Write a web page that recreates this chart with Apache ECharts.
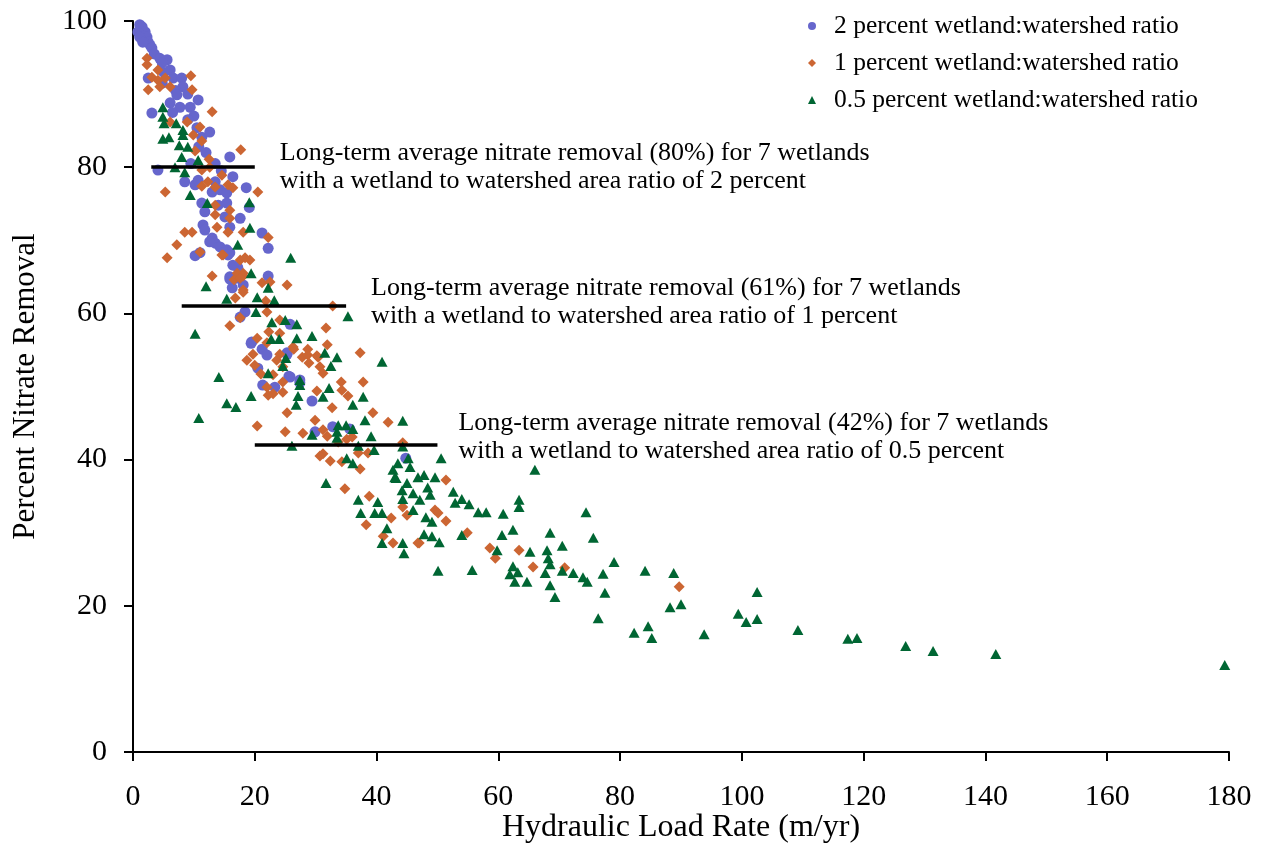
<!DOCTYPE html>
<html>
<head>
<meta charset="utf-8">
<script src="https://cdn.jsdelivr.net/npm/echarts@6/dist/echarts.min.js"></script>
<style>
html,body{margin:0;padding:0;background:#fff;}
#chart{width:1266px;height:845px;}
</style>
</head>
<body>
<div id="chart"></div>
<script>
// ---- data ----
var xTicks = [0, 20, 40, 60, 80, 100, 120, 140, 160, 180];
var yTicks = [0, 20, 40, 60, 80, 100];
var seriesNames = ['2 percent wetland:watershed ratio', '1 percent wetland:watershed ratio', '0.5 percent wetland:watershed ratio'];

var ratio2 = [
[1.1,99.5],[1.5,99.2],[2.0,98.5],[2.3,97.8],[2.5,97.1],[2.8,96.7],[0.8,98.5],[1.1,97.8],[1.6,97.1],[3.1,96.3],
[3.5,95.5],[4.4,94.9],[5.6,94.7],[4.8,94.3],[5.0,93.0],[2.5,92.2],[6.1,93.3],[6.6,92.2],[8.0,92.2],[8.2,91.0],
[4.8,91.5],[7.0,90.5],[9.0,90.0],[7.2,89.9],[6.1,88.8],[7.7,88.2],[9.4,88.2],[10.7,89.2],[6.5,87.5],[10.0,87.0],
[3.1,87.4],[9.0,86.5],[10.5,85.4],[11.3,84.1],[12.6,84.8],[10.8,82.8],[12.0,82.0],[13.5,80.5],[14.5,79.5],[9.5,80.5],
[15.9,81.4],[4.1,79.6],[8.5,78.0],[10.2,77.6],[10.7,78.2],[13.5,78.0],[16.4,78.7],[13.0,76.6],[14.3,76.9],[15.4,76.5],
[18.6,77.2],[11.3,75.1],[14.0,74.8],[15.4,75.1],[19.1,74.5],[11.8,73.9],[15.1,73.2],[17.6,73.0],[15.9,71.8],[11.5,72.1],
[11.8,71.4],[21.2,71.0],[13.0,70.3],[13.5,69.6],[12.6,69.8],[14.3,69.1],[15.4,68.7],[15.9,68.3],[10.2,67.9],[11.0,68.3],
[22.2,68.9],[17.2,66.3],[16.9,64.8],[15.9,65.0],[16.3,63.5],[22.2,65.1],[15.6,68.0],[16.4,66.6],[15.9,64.7],[18.1,63.9],
[18.4,60.2],[17.6,59.5],[25.8,58.5],[19.5,56.1],[19.4,55.9],[21.2,55.1],[22.0,54.3],[25.3,54.4],[20.5,52.5],[25.6,51.4],
[21.3,50.2],[23.3,49.9],[27.4,50.5],[25.3,54.6],[25.8,51.3],[27.4,50.9],[29.4,48.0],[29.9,43.8],[32.8,44.5],[35.6,44.2],
[44.8,40.2]
];

var ratio1 = [
[2.3,94.9],[2.3,94.0],[4.1,93.3],[3.1,92.3],[4.1,91.9],[5.3,92.2],[4.4,91.0],[2.5,90.6],[6.1,91.0],[9.5,92.5],
[9.7,90.6],[13.0,87.6],[6.1,86.2],[8.9,86.2],[11.0,85.5],[9.9,84.4],[11.3,83.6],[10.2,82.2],[12.5,81.1],[17.7,82.4],
[5.3,76.6],[12.3,78.0],[11.3,77.4],[13.5,77.3],[14.6,78.9],[12.6,80.0],[11.3,79.6],[15.6,77.6],[16.4,77.2],[20.5,76.6],
[13.5,74.8],[15.9,74.1],[13.5,73.5],[15.9,73.0],[13.8,71.8],[8.5,71.1],[9.7,71.1],[15.6,71.1],[18.1,71.1],[22.2,70.4],
[7.2,69.4],[11.0,68.4],[14.8,68.0],[5.6,67.6],[13.0,65.1],[17.6,67.3],[19.2,67.3],[18.1,65.5],[21.2,64.2],[18.1,63.2],
[14.6,68.0],[18.4,67.6],[17.1,65.5],[18.1,65.1],[16.6,64.6],[17.6,64.8],[22.5,64.3],[25.3,63.9],[18.1,62.9],[16.8,62.1],
[21.8,61.7],[22.0,60.2],[17.6,59.4],[15.9,58.3],[32.8,61.0],[24.1,59.1],[22.3,57.5],[24.1,57.3],[20.4,56.6],[22.0,56.0],
[31.7,58.0],[26.4,55.1],[28.7,55.1],[30.4,54.0],[18.7,53.6],[19.7,54.4],[20.0,52.9],[23.6,53.6],[24.1,54.4],[24.6,52.7],
[21.0,51.7],[23.0,51.6],[22.0,49.9],[23.0,49.0],[26.3,55.4],[27.8,54.0],[28.7,54.3],[28.9,53.2],[30.2,54.2],[31.9,55.7],
[30.7,52.7],[31.2,51.8],[37.3,54.6],[37.8,50.6],[34.2,50.6],[34.3,49.5],[35.3,48.7],[30.2,49.4],[24.6,50.6],[24.6,49.2],
[32.7,47.1],[39.4,46.4],[41.9,45.1],[25.3,46.4],[29.9,45.4],[25.0,43.8],[27.9,43.6],[31.2,44.1],[31.9,43.2],[33.7,42.4],
[35.1,42.8],[36.0,43.1],[44.3,42.3],[37.0,40.9],[38.6,40.9],[31.2,40.8],[30.7,40.5],[32.4,39.8],[34.3,39.7],[37.3,38.7],
[20.4,44.6],[22.2,48.8],[51.4,37.2],[49.6,33.1],[50.1,32.7],[51.4,31.6],[44.3,33.5],[45.0,32.4],[54.9,30.0],[47.0,28.6],
[58.6,27.9],[59.5,26.5],[63.4,27.6],[65.7,25.3],[70.9,25.2],[34.8,36.0],[38.8,35.0],[42.4,32.0],[38.3,31.1],[41.1,29.5],
[42.7,28.6],[46.8,28.6],[89.7,22.6]
];

var ratio05 = [
[4.9,88.2],[4.9,86.9],[5.1,86.0],[7.1,86.0],[4.9,83.9],[5.9,84.1],[8.2,85.1],[8.2,84.4],[7.6,83.0],[9.0,82.8],
[8.0,81.4],[10.7,81.0],[6.9,80.0],[8.5,79.3],[9.4,76.2],[12.2,75.1],[19.1,75.2],[19.2,71.7],[17.2,69.4],[19.4,65.5],
[25.9,67.6],[12.0,63.7],[22.2,63.5],[15.4,62.0],[20.4,62.2],[23.2,61.8],[20.2,60.2],[35.3,59.6],[22.8,58.8],[25.0,59.1],
[26.9,58.5],[22.7,56.5],[24.0,56.5],[26.9,56.6],[22.2,51.8],[14.1,51.3],[19.4,48.7],[10.2,57.2],[15.4,47.7],[16.9,47.2],
[10.8,45.7],[29.4,56.9],[31.5,54.6],[33.5,54.0],[40.9,53.4],[32.5,52.8],[25.1,53.9],[24.6,52.8],[27.4,50.9],[27.4,50.2],
[32.2,49.8],[31.2,48.6],[27.1,48.7],[37.8,48.6],[26.8,47.5],[36.1,47.5],[38.1,45.4],[44.3,45.3],[33.7,44.7],[35.0,44.7],
[36.1,44.2],[33.5,43.8],[33.5,43.0],[29.4,43.4],[39.1,43.2],[26.1,41.9],[37.0,41.9],[39.6,41.3],[44.3,41.8],[35.1,40.2],
[36.1,39.5],[43.5,39.5],[45.2,40.2],[45.5,39.0],[42.7,38.6],[46.8,37.6],[47.8,37.9],[49.6,37.6],[43.0,37.6],[43.2,37.5],
[31.7,36.8],[50.6,40.2],[66.0,38.6],[45.0,36.8],[48.4,36.2],[44.2,35.8],[46.0,35.4],[48.8,35.2],[52.6,35.6],[54.0,34.6],
[47.1,34.5],[44.3,34.6],[52.9,34.1],[55.2,33.9],[46.0,33.1],[56.7,32.8],[58.0,32.8],[60.8,32.6],[63.4,34.5],[63.4,33.5],
[48.1,32.1],[49.1,31.5],[62.4,30.4],[60.6,29.7],[47.8,29.8],[49.1,29.5],[50.3,28.7],[54.0,29.7],[68.5,30.0],[70.5,28.2],
[44.3,28.6],[44.5,27.2],[59.8,27.6],[65.2,27.4],[68.0,27.6],[68.2,26.5],[68.5,25.7],[50.1,24.8],[55.7,24.9],[62.4,25.4],
[63.2,24.6],[61.9,24.3],[62.7,23.3],[64.7,23.3],[67.7,24.5],[70.5,24.8],[72.3,24.5],[68.5,22.8],[69.3,21.2],[37.0,34.5],
[40.2,34.2],[37.4,32.7],[39.7,32.7],[40.9,32.7],[41.7,30.6],[40.9,28.6],[74.4,32.8],[75.6,29.3],[79.0,26.0],[73.9,23.9],
[74.6,23.3],[77.2,24.4],[77.5,21.8],[76.4,18.3],[84.1,24.8],[88.8,24.5],[88.2,19.8],[90.0,20.2],[82.3,16.3],[84.6,17.2],
[85.2,15.6],[93.8,16.1],[102.5,21.9],[99.4,18.9],[100.7,17.8],[102.5,18.2],[109.2,16.7],[117.4,15.5],[118.9,15.6],[126.9,14.5],
[131.4,13.8],[141.7,13.4],[179.3,11.9]
];

// Long-term averages: value, x-range and the two label lines
var avgValues = [80, 61, 42];
var avgFrom = [3, 8, 20];
var avgTo = [20, 35, 50];
var avgLabels = [
  ['Long-term average nitrate removal (80%) for 7 wetlands', 'with a wetland to watershed area ratio of 2 percent'],
  ['Long-term average nitrate removal (61%) for 7 wetlands', 'with a wetland to watershed area ratio of 1 percent'],
  ['Long-term average nitrate removal (42%) for 7 wetlands', 'with a wetland to watershed area ratio of 0.5 percent']
];

var colors = ['#6666CC', '#CC6633', '#006633'];
var FONT = '"Liberation Serif", "Times New Roman", serif';
var labelDist = [25, 25, 21];
var spacerH = [0, 7, 16];

var chart = echarts.init(document.getElementById('chart'), null, {renderer: 'canvas'});

var markData = avgValues.map(function (v, i) {
  var txt = '{t|' + avgLabels[i][0] + '}\n{t|' + avgLabels[i][1] + '}';
  if (spacerH[i] > 0) txt += '\n{s| }';
  return [
    {coord: [avgFrom[i], v], label: {
      show: true, position: 'end', distance: labelDist[i], formatter: txt,
      color: '#000', fontFamily: FONT, fontSize: 26, lineHeight: 28, align: 'left',
      rich: {
        t: {color: '#000', fontFamily: FONT, fontSize: 26, lineHeight: 28},
        s: {fontSize: 1, lineHeight: spacerH[i] || 1, height: spacerH[i] || 1}
      }
    }},
    {coord: [avgTo[i], v]}
  ];
});

var option = {
  animation: false,
  backgroundColor: '#fff',
  grid: {left: 133, right: 37, top: 21, bottom: 93, containLabel: false, outerBoundsMode: 'none'},
  legend: {
    data: seriesNames.map(function (n, i) { return {name: n, icon: ['circle', 'diamond', 'triangle'][i]}; }),
    orient: 'vertical', left: 803, top: 8,
    itemWidth: 8, itemHeight: 8, itemGap: 11,
    textStyle: {color: '#000', fontFamily: FONT, fontSize: 25.5, lineHeight: 26, padding: [0, 0, 0, 13]}
  },
  xAxis: {
    type: 'value', min: 0, max: 180, interval: 20,
    name: 'Hydraulic Load Rate (m/yr)', nameLocation: 'middle', nameGap: 60, nameMoveOverlap: false,
    nameTextStyle: {color: '#000', fontFamily: FONT, fontSize: 32},
    axisLine: {show: true, onZero: false, lineStyle: {color: '#000', width: 2}},
    axisTick: {show: true, inside: false, length: 9, lineStyle: {color: '#000', width: 2}},
    axisLabel: {color: '#000', fontFamily: FONT, fontSize: 30, margin: 30,
      formatter: function (v) { return xTicks.indexOf(v) >= 0 ? String(v) : ''; }},
    splitLine: {show: false}
  },
  yAxis: {
    type: 'value', min: 0, max: 100, interval: 20,
    name: 'Percent Nitrate Removal', nameLocation: 'middle', nameGap: 92,
    nameTextStyle: {color: '#000', fontFamily: FONT, fontSize: 31},
    axisLine: {show: true, onZero: false, lineStyle: {color: '#000', width: 2}},
    axisTick: {show: true, inside: false, length: 9, lineStyle: {color: '#000', width: 2}},
    axisLabel: {color: '#000', fontFamily: FONT, fontSize: 30, margin: 26,
      formatter: function (v) { return yTicks.indexOf(v) >= 0 ? String(v) : ''; }},
    splitLine: {show: false}
  },
  series: [
    {name: seriesNames[0], type: 'scatter', data: ratio2, symbol: 'circle', symbolSize: 11,
      itemStyle: {color: colors[0], opacity: 1}, z: 2},
    {name: seriesNames[1], type: 'scatter', data: ratio1, symbol: 'diamond', symbolSize: 11,
      itemStyle: {color: colors[1], opacity: 1}, z: 3},
    {name: seriesNames[2], type: 'scatter', data: ratio05, symbol: 'triangle', symbolSize: [11, 10],
      itemStyle: {color: colors[2], opacity: 1}, z: 4},
    {name: 'averages', type: 'scatter', data: [], z: 5, silent: true,
      markLine: {silent: true, symbol: ['none', 'none'],
        lineStyle: {color: '#000', width: 3.5, type: 'solid'},
        data: markData}}
  ]
};
chart.setOption(option);
</script>
</body>
</html>
